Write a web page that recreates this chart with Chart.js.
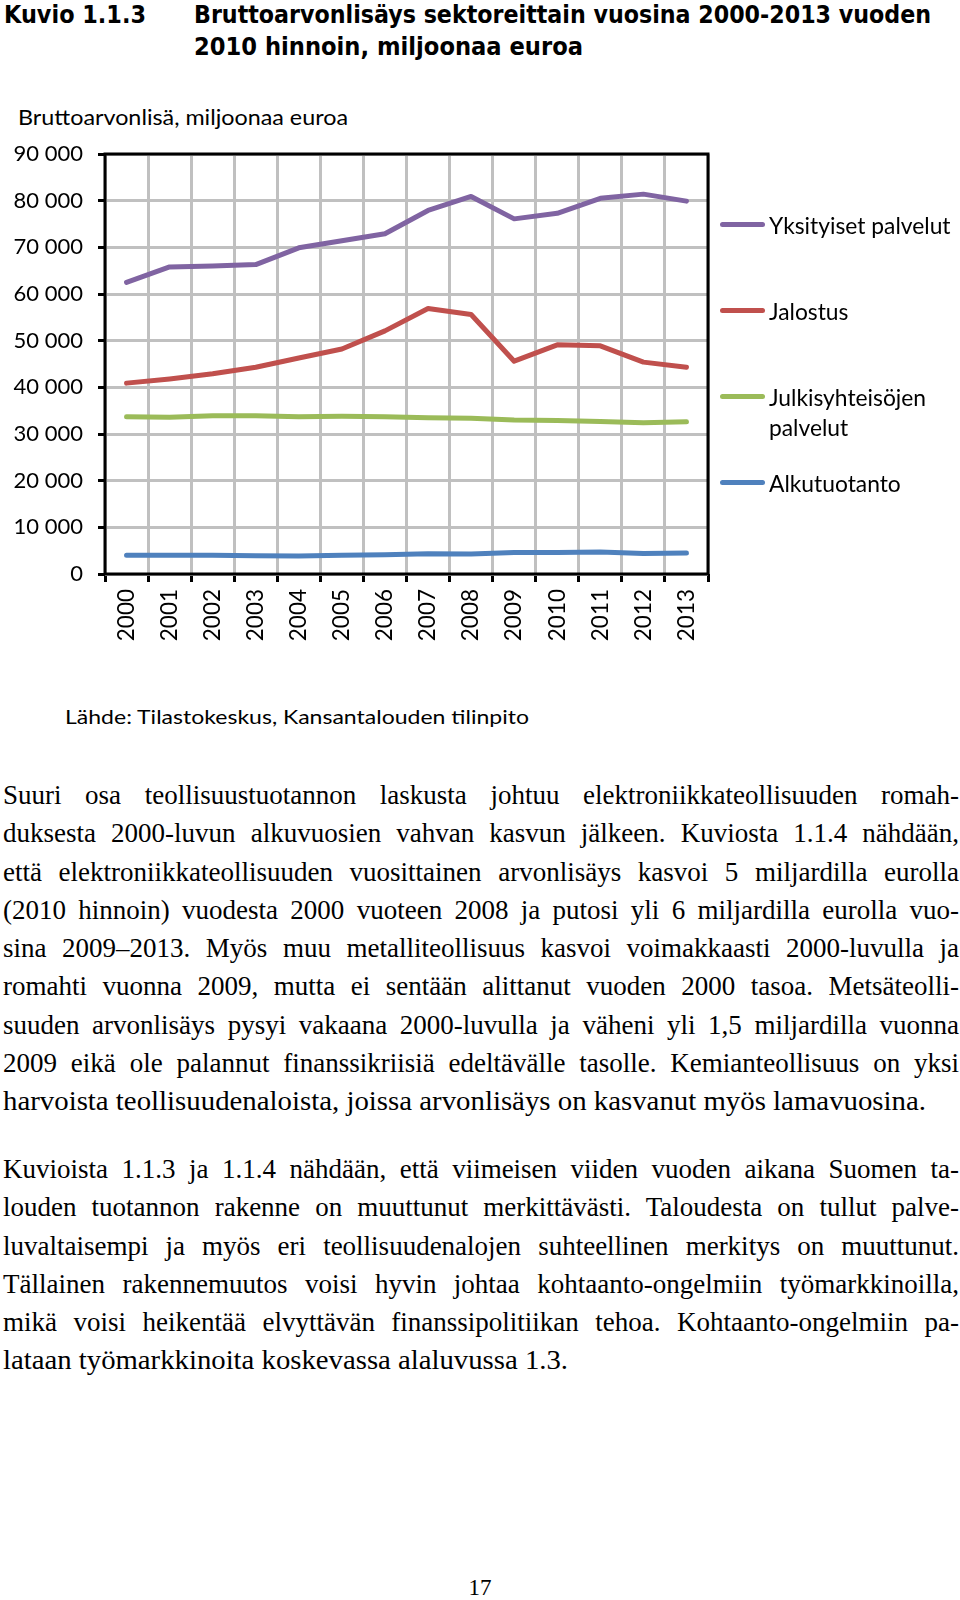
<!DOCTYPE html>
<html>
<head>
<meta charset="utf-8">
<script src="https://cdn.jsdelivr.net/npm/chart.js@4.4.0/dist/chart.umd.min.js"></script>
<style>
html,body{margin:0;padding:0;background:#fff;}
body{width:960px;height:1600px;position:relative;overflow:hidden;color:#000;}
.ln{position:absolute;white-space:nowrap;display:inline-block;transform-origin:0 50%;}
.ttl{font-family:"DejaVu Sans",sans-serif;font-weight:bold;font-size:24px;line-height:30px;}
.body{font-family:"Liberation Serif",serif;font-size:27px;line-height:32px;left:3px;}
.src{font-family:Lato,sans-serif;font-size:20px;line-height:26px;}
.ytl{font-family:Lato,sans-serif;font-size:22px;line-height:26px;}
#chartBox{position:absolute;left:0;top:90px;width:960px;height:554px;}
.lg{position:absolute;left:720px;font-family:Lato,sans-serif;font-size:22.8px;line-height:30px;}
.lg .sw{position:absolute;left:0;width:45px;height:5px;border-radius:3px;top:12px;}
.lg .tx{position:absolute;left:49px;white-space:nowrap;}
#pg{position:absolute;left:0;width:960px;text-align:center;font-family:"Liberation Serif",serif;font-size:23px;line-height:26px;top:1575px;}
</style>
</head>
<body>
<div class="ln ttl" style="left:4px;top:0px" data-w="142" data-m="s">Kuvio 1.1.3</div>
<div class="ln ttl" style="left:194px;top:0px" data-w="737" data-m="s">Bruttoarvonlisäys sektoreittain vuosina 2000-2013 vuoden</div>
<div class="ln ttl" style="left:194px;top:32px" data-w="389" data-m="s">2010 hinnoin, miljoonaa euroa</div>

<div id="ytitle" class="ln ytl" style="left:18px;top:104px" data-w="330" data-m="s"></div>
<div id="chartBox"><canvas id="c" width="960" height="554"></canvas></div>
<div id="legend"></div>

<div class="ln src" style="left:65px;top:703px" data-w="464" data-m="s">Lähde: Tilastokeskus, Kansantalouden tilinpito</div>

<div id="bodytext"></div>
<div id="pg">17</div>

<script>
// ---- data ----
const years = ['2000','2001','2002','2003','2004','2005','2006','2007','2008','2009','2010','2011','2012','2013'];
const yksityisetPalvelut = [62500, 65800, 66000, 66300, 69900, 71400, 72900, 77900, 80900, 76100, 77300, 80500, 81400, 79900];
const jalostus = [40900, 41800, 42900, 44300, 46300, 48200, 52100, 56900, 55600, 45600, 49100, 48900, 45400, 44300];
const julkisyhteisojenPalvelut = [33700, 33600, 33900, 33900, 33700, 33800, 33700, 33500, 33400, 33000, 32900, 32700, 32400, 32600];
const alkutuotanto = [4000, 4000, 4000, 3900, 3850, 4000, 4100, 4350, 4300, 4600, 4600, 4700, 4400, 4500];
const seriesNames = ['Yksityiset palvelut', 'Jalostus', 'Julkisyhteisöjen palvelut', 'Alkutuotanto'];
const seriesColors = ['#8064A2', '#C0504D', '#9BBB59', '#4F81BD'];
const yAxisTitle = 'Bruttoarvonlisä, miljoonaa euroa';
const yMin = 0, yMax = 90000, yStep = 10000;

const paragraph1 = [
 'Suuri osa teollisuustuotannon laskusta johtuu elektroniikkateollisuuden romah-',
 'duksesta 2000-luvun alkuvuosien vahvan kasvun jälkeen. Kuviosta 1.1.4 nähdään,',
 'että elektroniikkateollisuuden vuosittainen arvonlisäys kasvoi 5 miljardilla eurolla',
 '(2010 hinnoin) vuodesta 2000 vuoteen 2008 ja putosi yli 6 miljardilla eurolla vuo-',
 'sina 2009–2013. Myös muu metalliteollisuus kasvoi voimakkaasti 2000-luvulla ja',
 'romahti vuonna 2009, mutta ei sentään alittanut vuoden 2000 tasoa. Metsäteolli-',
 'suuden arvonlisäys pysyi vakaana 2000-luvulla ja väheni yli 1,5 miljardilla vuonna',
 '2009 eikä ole palannut finanssikriisiä edeltävälle tasolle. Kemianteollisuus on yksi',
 'harvoista teollisuudenaloista, joissa arvonlisäys on kasvanut myös lamavuosina.'
];
const paragraph2 = [
 'Kuvioista 1.1.3 ja 1.1.4 nähdään, että viimeisen viiden vuoden aikana Suomen ta-',
 'louden tuotannon rakenne on muuttunut merkittävästi. Taloudesta on tullut palve-',
 'luvaltaisempi ja myös eri teollisuudenalojen suhteellinen merkitys on muuttunut.',
 'Tällainen rakennemuutos voisi hyvin johtaa kohtaanto-ongelmiin työmarkkinoilla,',
 'mikä voisi heikentää elvyttävän finanssipolitiikan tehoa. Kohtaanto-ongelmiin pa-',
 'lataan työmarkkinoita koskevassa alaluvussa 1.3.'
];

document.getElementById('ytitle').textContent = yAxisTitle;

// ---- body text ----
const bt = document.getElementById('bodytext');
function addPara(lines, firstCenter, lastWidth){
  lines.forEach((t, i) => {
    const d = document.createElement('div');
    d.className = 'ln body';
    d.textContent = t;
    d.style.top = (firstCenter + i * 38.25 - 16) + 'px';
    const last = i === lines.length - 1;
    d.dataset.w = last ? lastWidth : 956;
    d.dataset.m = last ? 's' : 'j';
    bt.appendChild(d);
  });
}
addPara(paragraph1, 795, 923);
addPara(paragraph2, 1169, 565);

// ---- legend ----
const lg = document.getElementById('legend');
const legendTops = [225, 311, 397, 483];
seriesNames.forEach((name, i) => {
  const item = document.createElement('div');
  item.className = 'lg';
  item.style.top = (legendTops[i] - 15) + 'px';
  const sw = document.createElement('div');
  sw.className = 'sw';
  sw.style.background = seriesColors[i];
  const tx = document.createElement('div');
  tx.className = 'tx';
  if (name.length > 20) {
    const k = name.lastIndexOf(' ');
    tx.appendChild(document.createTextNode(name.slice(0, k)));
    tx.appendChild(document.createElement('br'));
    tx.appendChild(document.createTextNode(name.slice(k + 1)));
  } else tx.textContent = name;
  item.appendChild(sw); item.appendChild(tx);
  lg.appendChild(item);
});

// ---- fit text lines ----
document.querySelectorAll('.ln').forEach(el => {
  const target = parseFloat(el.dataset.w);
  if (!target) return;
  const w = el.getBoundingClientRect().width;
  if (el.dataset.m === 'j') {
    const n = (el.textContent.match(/ /g) || []).length;
    if (n > 0) el.style.wordSpacing = ((target - w) / n) + 'px';
  } else {
    el.style.transform = 'scaleX(' + (target / w) + ')';
  }
});

// ---- chart ----
function fmt(v){ return String(v).replace(/\B(?=(\d{3})+(?!\d))/g, ' '); }

const plotBorder = {
  id: 'plotBorder',
  beforeDatasetsDraw(chart){
    const a = chart.chartArea, ctx = chart.ctx;
    ctx.save();
    ctx.strokeStyle = '#000';
    ctx.lineWidth = 3;
    ctx.strokeRect(a.left, a.top, a.right - a.left, a.bottom - a.top);
    ctx.restore();
  }
};

const seriesData = [yksityisetPalvelut, jalostus, julkisyhteisojenPalvelut, alkutuotanto];

new Chart(document.getElementById('c'), {
  type: 'line',
  data: {
    labels: years,
    datasets: seriesData.map((d, i) => ({
      label: seriesNames[i],
      data: d,
      borderColor: seriesColors[i],
      backgroundColor: seriesColors[i],
      borderWidth: 5,
      pointRadius: 0,
      tension: 0,
      borderCapStyle: 'round',
      borderJoinStyle: 'round',
      fill: false
    }))
  },
  plugins: [plotBorder],
  options: {
    responsive: false,
    animation: false,
    layout: { padding: { left: 0, right: 252, top: 64, bottom: 0 } },
    plugins: {
      legend: { display: false },
      tooltip: { enabled: false },
      title: { display: false }
    },
    scales: {
      x: {
        offset: true,
        grid: { offset: true, color: '#c0c0c0', lineWidth: 3, tickColor: '#000', tickWidth: 3, tickLength: 8, drawTicks: true },
        border: { display: false },
        ticks: { color: '#000', font: { family: 'Lato', size: 22.5 }, minRotation: 90, maxRotation: 90, padding: 7, autoSkip: false },
        afterFit(s){ s.height = 70; }
      },
      y: {
        min: yMin, max: yMax,
        grid: { color: '#c0c0c0', lineWidth: 3, tickColor: '#000', tickWidth: 3, tickLength: 7, drawTicks: true },
        border: { display: false },
        ticks: { stepSize: yStep, color: '#000', font: { family: 'Lato', size: 22 }, padding: 15, callback: v => fmt(v) },
        afterFit(s){ s.width = 105; }
      }
    }
  }
});
</script>
</body>
</html>
